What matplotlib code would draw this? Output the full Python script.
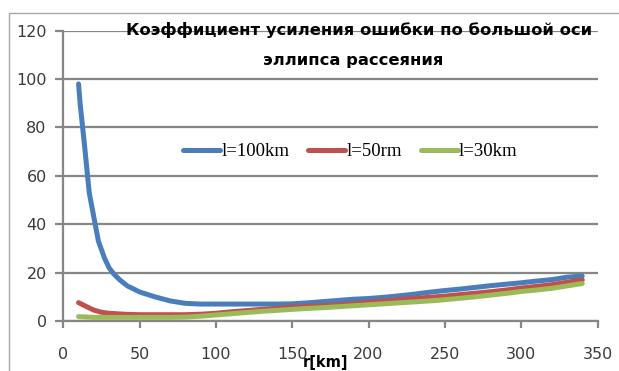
import numpy as np
import matplotlib
matplotlib.use("Agg")
import matplotlib.pyplot as plt
from matplotlib.patches import Rectangle

# Данные
r_100 = [10, 11, 14, 17, 20, 23, 27, 30, 33, 37, 42, 50, 60, 70, 80, 90, 100,
         110, 120, 130, 140, 150, 160, 170, 180, 190, 200, 210, 220, 230, 240,
         250, 260, 270, 280, 290, 300, 310, 320, 330, 340]
k_100 = [98, 90, 72, 53, 43, 33, 26, 22, 19.5, 17, 14.5, 12, 10, 8.3, 7.3, 7,
         7, 7, 7, 7, 7, 7.1, 7.5, 8, 8.5, 9, 9.3, 9.8, 10.4, 11.1, 11.9,
         12.6, 13.2, 13.9, 14.6, 15.2, 15.8, 16.5, 17.1, 18.1, 18.6]

r_50 = [10, 15, 20, 25, 30, 40, 50, 60, 70, 80, 90, 100, 110, 120, 130, 140,
        150, 160, 170, 180, 190, 200, 210, 220, 230, 240, 250, 260, 270, 280,
        290, 300, 310, 320, 330, 340]
k_50 = [7.6, 6, 4.5, 3.6, 3.2, 2.8, 2.6, 2.6, 2.6, 2.6, 2.8, 3.2, 3.8, 4.3,
        4.8, 5.2, 5.7, 6.0, 6.3, 6.7, 7.2, 7.8, 8.3, 8.8, 9.3, 9.8, 10.3,
        10.9, 11.5, 12.1, 12.8, 13.6, 14.3, 15.0, 16.0, 17.0]

r_30 = [10, 20, 30, 40, 50, 60, 70, 80, 90, 100, 110, 120, 130, 140, 150,
        160, 170, 180, 190, 200, 210, 220, 230, 240, 250, 260, 270, 280, 290,
        300, 310, 320, 330, 340]
k_30 = [1.8, 1.5, 1.5, 1.5, 1.5, 1.5, 1.5, 1.6, 2.0, 2.5, 3.0, 3.5, 4.0, 4.4,
        4.8, 5.2, 5.5, 5.9, 6.3, 6.7, 7.1, 7.5, 7.9, 8.3, 8.8, 9.4, 10.0,
        10.7, 11.4, 12.2, 12.8, 13.5, 14.5, 15.5]

series_labels = ["l=100km", "l=50rm", "l=30km"]
colors = ["#4a7ebb", "#c0504d", "#9bbb59"]

x_ticks = [0, 50, 100, 150, 200, 250, 300, 350]
y_ticks = [0, 20, 40, 60, 80, 100, 120]

title_1 = "Коэффициент усиления ошибки по большой оси"
title_2 = "эллипса рассеяния"
x_label = "r[km]"

grey = "#868686"

fig = plt.figure(figsize=(6.19, 3.71), dpi=100)

# рамка области диаграммы
fig.patches.append(Rectangle((9 / 619, -0.1), 1.2, 1.1 - 13 / 371,
                             transform=fig.transFigure, fill=False,
                             edgecolor="#a6a6a6", lw=1.0))

ax = fig.add_axes([63.3 / 619, 1 - 321 / 371, (597.5 - 63.3) / 619, 290.3 / 371])

for r, k, lab, c in zip([r_100, r_50, r_30], [k_100, k_50, k_30],
                        series_labels, colors):
    ax.plot(r, k, color=c, lw=3.6, label=lab, solid_capstyle="round", zorder=3)

ax.set_xlim(0, 350)
ax.set_ylim(0, 120)
ax.set_xticks(x_ticks)
ax.set_yticks(y_ticks)
ax.yaxis.grid(True, color=grey, lw=1.6)
ax.set_axisbelow(True)

for s in ["top", "right"]:
    ax.spines[s].set_visible(False)
for s in ["left", "bottom"]:
    ax.spines[s].set_color(grey)
    ax.spines[s].set_linewidth(1.6)

ax.tick_params(axis="x", direction="out", length=5, width=1.6, color=grey,
               pad=14, labelsize=11.5, labelcolor="#3a3a3a")
ax.tick_params(axis="y", direction="out", length=6, width=1.6, color=grey,
               pad=6, labelsize=11.5, labelcolor="#3a3a3a")

leg = ax.legend(loc="center", bbox_to_anchor=(0.537, 0.583), ncol=3,
                frameon=False, handlelength=2.0, handletextpad=0.05,
                columnspacing=1.0, borderpad=0,
                prop={"family": "Liberation Serif", "size": 13.5})

fig.text(359 / 619, 1 - 30 / 371, title_1, ha="center", va="center",
         fontsize=11.8, fontweight="bold", color="black")
fig.text(353 / 619, 1 - 60 / 371, title_2, ha="center", va="center",
         fontsize=11.8, fontweight="bold", color="black")
fig.text(325 / 619, 1 - 362 / 371, x_label, ha="center", va="center",
         fontsize=10.5, fontweight="bold", color="black")

fig.savefig("out.png", dpi=100)
